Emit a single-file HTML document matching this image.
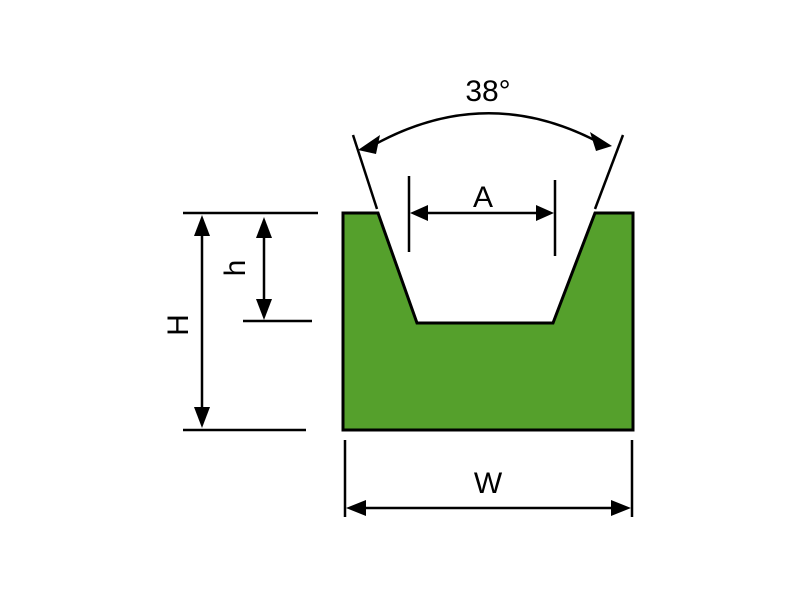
<!DOCTYPE html>
<html><head><style>body{margin:0;background:#fff}</style></head><body>
<svg width="800" height="600" viewBox="0 0 800 600" xmlns="http://www.w3.org/2000/svg" font-family="Liberation Sans, sans-serif">
<defs>
<marker id="a" viewBox="0 0 10 10" refX="10" refY="5" markerWidth="7" markerHeight="7" orient="auto-start-reverse" markerUnits="userSpaceOnUse">
</marker>
</defs>
<path d="M343,213 L378,213 L417,323 L553,323 L595,213 L633,213 L633,430 L343,430 Z" fill="#55a02c" stroke="#000" stroke-width="3"/>
<g stroke="#000" stroke-width="2.5" fill="none">
<line x1="353" y1="135" x2="377" y2="209"/>
<line x1="623" y1="135" x2="595" y2="209"/>
<path d="M372,146 Q486,82 600,143"/>
<line x1="409" y1="176" x2="409" y2="252"/>
<line x1="555" y1="180" x2="555" y2="256"/>
<line x1="425" y1="213" x2="540" y2="213"/>
<line x1="183" y1="213" x2="318" y2="213"/>
<line x1="183" y1="430" x2="306" y2="430"/>
<line x1="202" y1="232" x2="202" y2="411"/>
<line x1="264" y1="236" x2="264" y2="302"/>
<line x1="243" y1="321" x2="312" y2="321"/>
<line x1="345" y1="440" x2="345" y2="517"/>
<line x1="632" y1="440" x2="632" y2="517"/>
<line x1="362" y1="508" x2="615" y2="508"/>
</g>
<g fill="#000">
<polygon points="358,150 380,135 376,154"/>
<polygon points="612,146 590,132 596,151"/>
<polygon points="410,213 428,205 428,221"/>
<polygon points="554,213 536,205 536,221"/>
<polygon points="202,215 194,236 210,236"/>
<polygon points="202,428 194,407 210,407"/>
<polygon points="264,217 256,238 272,238"/>
<polygon points="264,320 256,299 272,299"/>
<polygon points="346,508 366,500 366,516"/>
<polygon points="631,508 611,500 611,516"/>
</g>
<g font-size="30" text-anchor="middle" fill="#000">
<text x="488" y="101">38°</text>
<text x="483" y="207">A</text>
<text x="488" y="493">W</text>
<text transform="translate(188,325) rotate(-90)">H</text>
<text transform="translate(245,268) rotate(-90)">h</text>
</g>
</svg>
</body></html>
